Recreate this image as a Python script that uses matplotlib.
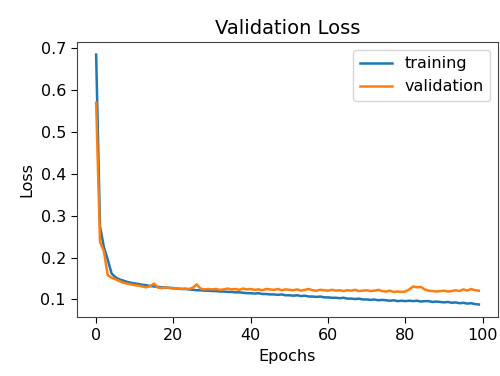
import matplotlib

matplotlib.use("Agg")
import matplotlib.pyplot as plt

# loss values per epoch
epochs = list(range(100))

training = [
    0.685, 0.275, 0.225, 0.195, 0.162, 0.153, 0.148, 0.145, 0.142, 0.140,
    0.138, 0.137, 0.135, 0.134, 0.132, 0.131, 0.130, 0.129, 0.128, 0.128,
    0.127, 0.126, 0.125, 0.125, 0.124, 0.123, 0.122, 0.122, 0.121, 0.121,
    0.120, 0.120, 0.119, 0.119, 0.118, 0.118, 0.117, 0.117, 0.116, 0.115,
    0.115, 0.114, 0.115, 0.113, 0.113, 0.112, 0.112, 0.111, 0.112, 0.110,
    0.110, 0.109, 0.110, 0.108, 0.109, 0.107, 0.107, 0.106, 0.107, 0.105,
    0.105, 0.104, 0.104, 0.103, 0.104, 0.102, 0.102, 0.101, 0.102, 0.100,
    0.100, 0.099, 0.100, 0.098, 0.099, 0.098, 0.097, 0.098, 0.096, 0.097,
    0.096, 0.097, 0.096, 0.097, 0.095, 0.096, 0.096, 0.094, 0.095, 0.094,
    0.093, 0.094, 0.092, 0.093, 0.091, 0.092, 0.090, 0.091, 0.089, 0.088,
]

validation = [
    0.570, 0.238, 0.215, 0.158, 0.152, 0.148, 0.144, 0.140, 0.138, 0.136,
    0.134, 0.133, 0.131, 0.129, 0.132, 0.138, 0.128, 0.127, 0.129, 0.127,
    0.126, 0.127, 0.125, 0.126, 0.125, 0.128, 0.136, 0.126, 0.124, 0.125,
    0.124, 0.125, 0.123, 0.124, 0.126, 0.124, 0.125, 0.123, 0.126, 0.124,
    0.125, 0.123, 0.124, 0.122, 0.125, 0.124, 0.123, 0.125, 0.122, 0.124,
    0.123, 0.122, 0.124, 0.121, 0.123, 0.125, 0.122, 0.121, 0.123, 0.122,
    0.121, 0.123, 0.121, 0.122, 0.120, 0.122, 0.121, 0.123, 0.120, 0.121,
    0.122, 0.120, 0.121, 0.123, 0.120, 0.119, 0.121, 0.118, 0.119, 0.118,
    0.119, 0.124, 0.131, 0.129, 0.130, 0.124, 0.121, 0.120, 0.119, 0.120,
    0.121, 0.119, 0.120, 0.122, 0.120, 0.124, 0.121, 0.125, 0.122, 0.121,
]

fig = plt.figure(figsize=(5, 3.76), dpi=100)
ax = fig.add_axes([0.154, 0.157, 0.842, 0.731])

ax.plot(epochs, training, color="#1f77b4", linewidth=1.8, label="training")
ax.plot(epochs, validation, color="#ff7f0e", linewidth=1.8, label="validation")

ax.set_title("Validation Loss", fontsize=14)
ax.set_xlabel("Epochs", fontsize=11.5)
ax.set_ylabel("Loss", fontsize=11.5)
ax.tick_params(labelsize=11.5, length=4.5)
ax.set_xticks([0, 20, 40, 60, 80, 100])
ax.set_yticks([0.1, 0.2, 0.3, 0.4, 0.5, 0.6, 0.7])
for side in ax.spines.values():
    side.set_edgecolor("#444444")
ax.legend(loc="upper right", fontsize=11.5)

fig.savefig("out.png", dpi=100)
